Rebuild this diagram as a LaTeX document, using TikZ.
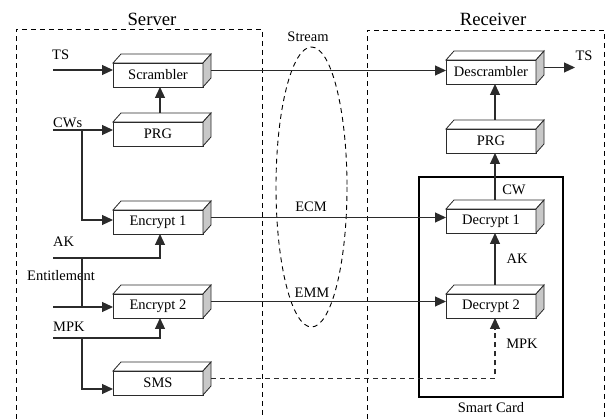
\documentclass[tikz,border=0pt]{standalone}
\usepackage{fontspec}
\setmainfont{Liberation Serif}
\usepackage{tikz}
\usetikzlibrary{arrows.meta}
\usetikzlibrary{calc}
\usetikzlibrary{positioning}
\definecolor{line-dark}{HTML}{2B2B2B}
\definecolor{face-grey}{HTML}{C8C8C8}
\tikzset{
  block/.style={draw=line-dark, line width=0.8pt, fill=white, minimum width=90pt,
    minimum height=24pt, inner sep=0pt, outer sep=0pt, font=\fontsize{14.5}{17}\selectfont},
  lbl/.style={font=\fontsize{14.5}{17}\selectfont, inner sep=0pt},
  ttl/.style={font=\fontsize{18.7}{21}\selectfont, inner sep=0pt},
  conn/.style={line width=1.2pt, color=line-dark},
  arr/.style={conn, -{Triangle[length=11pt,width=10pt]}},
  zone/.style={line width=0.9pt, dash pattern=on 5pt off 4pt},
}

\begin{document}
\begin{tikzpicture}[x=1pt, y=-1pt, line join=miter]
    % frame
    \useasboundingbox (0,0) rectangle (606,419);

    % zones
    \draw[zone] (16,419) -- (16,29) -- (262,29) -- (262,419);
    \draw[zone] (367,419) -- (367,30) -- (604,30) -- (604,419);
    \node[ttl] (server) at (152,19) {Server};
    \node[ttl] (receiver) at (493,19) {Receiver};

    % smart card
    \draw[line width=2.4pt] (419,177) rectangle (563,397);
    \node[lbl] (card) at (491,408) {Smart Card};

    % stream
    \draw[zone] (311.5,187) ellipse [x radius=35.5, y radius=140];
    \node[lbl] (stream) at (308,37) {Stream};

    % server blocks
    \node[block] (scr) at (158,75) {Scrambler};
    \node[block] (sprg) at (158,134) {PRG};
    \node[block] (enc1) at (158,222) {Encrypt 1};
    \node[block] (enc2) at (158,306) {Encrypt 2};
    \node[block] (sms) at (158,383) {SMS};

    % receiver blocks
    \node[block] (dscr) at (491,72) {Descrambler};
    \node[block] (rprg) at (491,141) {PRG};
    \node[block] (dec1) at (491,221) {Decrypt 1};
    \node[block] (dec2) at (491,306) {Decrypt 2};

    % depth of the blocks
    \foreach \b in {scr,sprg,enc1,enc2,sms,dscr,rprg,dec1,dec2} {
      \filldraw[draw=line-dark, line width=0.8pt, fill=white]
        (\b.north west) -- ++(8,-9) -- ([shift={(8,-9)}]\b.north east) -- (\b.north east) -- cycle;
      \filldraw[draw=line-dark, line width=0.8pt, fill=face-grey]
        (\b.north east) -- ++(8,-9) -- ([shift={(8,-9)}]\b.south east) -- (\b.south east) -- cycle;
      \coordinate (\b-out) at ([shift={(8,-4.5)}]\b.east);
    }

    % inputs
    \coordinate (tsin) at (53,70);
    \coordinate (cwin) at (53,130);
    \coordinate (akin) at (53,258);
    \coordinate (entin) at (53,307);
    \coordinate (mpkin) at (53,338);
    \coordinate (cwj) at (82,130);
    \coordinate (akj) at (82,258);
    \coordinate (mpkj) at (82,338);
    \coordinate (tsout) at (575,66);
    \node[lbl, anchor=west] (tsl) at (52,55) {TS};
    \node[lbl, anchor=west] (cwl) at (53,123) {CWs};
    \node[lbl, anchor=west] (akl) at (53,242) {AK};
    \node[lbl] (entl) at (61,276) {Entitlement};
    \node[lbl, anchor=west] (mpkl) at (53,327) {MPK};
    \node[lbl] (tsr) at (584,56) {TS};

    % server links
    \draw[arr] (tsin) -- (tsin -| scr.west);
    \draw[arr] (cwin) -- (cwin -| sprg.west);
    \draw[arr] (cwj) |- ([yshift=2pt]enc1.west);
    \draw[arr] (akin) -| ([xshift=2pt]enc1.south);
    \draw[conn] (akj) -- (akj |- entin);
    \draw[arr] (entin) -- (entin -| enc2.west);
    \draw[arr] (mpkin) -| ([xshift=2pt]enc2.south);
    \draw[arr] (mpkj) |- ([yshift=-6pt]sms.west);
    \draw[arr] ([shift={(2,-9)}]sprg.north) -- ([xshift=2pt]scr.south);

    % stream links
    \draw[arr] (scr-out) -- (scr-out -| dscr.west);
    \draw[arr] (enc1-out) -- (enc1-out -| dec1.west);
    \draw[arr] (enc2-out) -- (enc2-out -| dec2.west);
    \draw[arr, dash pattern=on 5pt off 4pt] (sms-out) -| ([xshift=4pt]dec2.south);
    \node[lbl] (ecm) at (311,207) {ECM};
    \node[lbl] (emm) at (312,293) {EMM};

    % receiver links
    \draw[arr] (dscr-out) -- (dscr-out -| tsout);
    \draw[arr] ([shift={(4,-9)}]rprg.north) -- ([xshift=4pt]dscr.south);
    \draw[arr] ([shift={(4,-9)}]dec1.north) -- ([xshift=4pt]rprg.south);
    \draw[arr] ([shift={(4,-9)}]dec2.north) -- ([xshift=4pt]dec1.south);
    \node[lbl] (cwr) at (514,190) {CW};
    \node[lbl] (akr) at (517,259) {AK};
    \node[lbl] (mpkr) at (522,344) {MPK};

\end{tikzpicture}
\end{document}
